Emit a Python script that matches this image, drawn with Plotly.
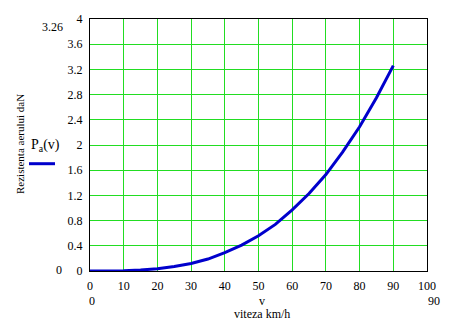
import plotly.graph_objects as go

v = [0, 5, 10, 15, 20, 25, 30, 35, 40, 45, 50, 55, 60, 65, 70, 75, 80, 85, 90]
Pa = [0, 0.001, 0.005, 0.015, 0.036, 0.07, 0.12, 0.19, 0.29, 0.41, 0.56, 0.74,
      0.97, 1.23, 1.53, 1.89, 2.29, 2.75, 3.26]
x_ticks = [0, 10, 20, 30, 40, 50, 60, 70, 80, 90, 100]
y_ticks = [0, 0.4, 0.8, 1.2, 1.6, 2, 2.4, 2.8, 3.2, 3.6, 4]
y_tick_text = ["0", "0.4", "0.8", "1.2", "1.6", "2", "2.4", "2.8", "3.2", "3.6", "4"]

FONT = "Liberation Serif"
GRID = "#22dd22"

fig = go.Figure()
fig.add_trace(go.Scatter(x=v, y=Pa, mode="lines",
                         line=dict(color="#0000cc", width=3), showlegend=False))

fig.update_layout(
    width=453, height=324,
    margin=dict(l=90, r=26, t=15, b=53),
    paper_bgcolor="white", plot_bgcolor="white",
    font=dict(family=FONT, size=12, color="black"),
    xaxis=dict(range=[0, 100], tickvals=x_ticks, showgrid=True, gridcolor=GRID,
               gridwidth=1, zeroline=False, showline=True, linecolor="black",
               linewidth=1, mirror=True, ticks="", ticklabelstandoff=4,
               tickfont=dict(family=FONT, size=12)),
    yaxis=dict(range=[0, 4], tickvals=y_ticks, ticktext=y_tick_text, showgrid=True,
               gridcolor=GRID, gridwidth=1, zeroline=False, showline=True,
               linecolor="black", linewidth=1, mirror=True, ticks="",
               ticklabelstandoff=4, tickfont=dict(family=FONT, size=12)),
)

def txt(x, y, s, size=12, angle=0, xanchor="center"):
    fig.add_annotation(x=x, y=y, xref="paper", yref="paper", text=s, showarrow=False,
                       font=dict(family=FONT, size=size, color="black"),
                       textangle=angle, xanchor=xanchor, yanchor="middle")

# paper coordinates: plot area x 90..427 px, y 15..271 px
W = 453 - 90 - 26
H = 324 - 15 - 53
def px(x):
    return (x - 90) / W
def py(y):
    return (271 - y) / H

txt(px(20), py(142), "Rezistenta aerului daN", size=11, angle=-90)
txt(px(45), py(143), "P<sub>a</sub>(v)", size=14)
fig.add_shape(type="line", xref="paper", yref="paper", x0=px(29), x1=px(55),
              y0=py(162), y1=py(162), line=dict(color="#0000cc", width=3))

txt(px(52), py(23), "3.26", size=12)
txt(px(59), py(270), "0", size=12)
txt(px(92), py(301), "0", size=12)
txt(px(434), py(301), "90", size=12)
txt(px(262), py(301), "v", size=12)
txt(px(262), py(315), "viteza km/h", size=12)

fig.write_html("out.html")
